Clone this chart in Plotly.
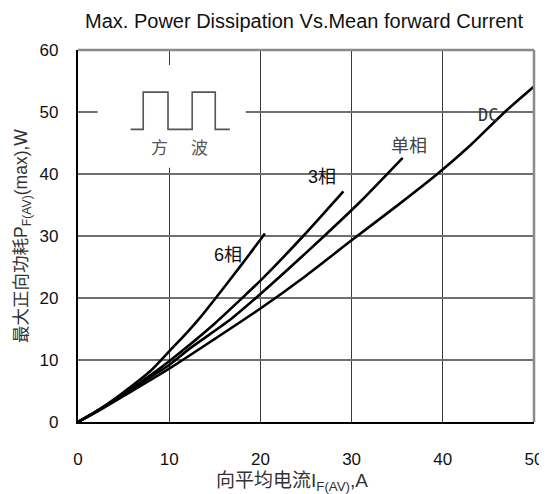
import plotly.graph_objects as go

# ---- data ----
x_6 = [0, 2, 5, 8, 10, 12, 13.2, 15, 18, 20.5]
y_6 = [0, 1.7, 4.8, 8.3, 11.4, 14.5, 16.5, 19.8, 25.5, 30.4]

x_3 = [0, 2, 5, 8, 10, 11.7, 15, 18, 20, 24.7, 29.1]
y_3 = [0, 1.7, 4.5, 7.6, 9.8, 11.8, 15.9, 20.0, 22.8, 30.0, 37.2]

x_1 = [0, 2, 5, 8, 10, 12.2, 16.6, 19.5, 23, 27, 31, 35.6]
y_1 = [0, 1.7, 4.4, 7.3, 9.2, 11.8, 16.4, 20.0, 24.6, 30.0, 35.6, 42.6]

x_dc = [0, 2, 5, 10, 15, 20, 25, 30, 35, 39.4, 43, 46.8, 50]
y_dc = [0, 1.6, 4.2, 8.6, 13.4, 18.3, 23.6, 29.3, 34.9, 40.0, 44.6, 50.0, 54.1]

x_ticks = [0, 10, 20, 30, 40, 50]
y_ticks = [0, 10, 20, 30, 40, 50, 60]

# square-wave inset outline (x, y in data units)
wave_x = [5.78, 7.15, 7.15, 9.87, 9.87, 12.52, 12.52, 15.05, 15.05, 16.65]
wave_y = [47.2, 47.2, 53.2, 53.2, 47.2, 47.2, 53.2, 53.2, 47.2, 47.2]

LATIN = "Liberation Sans, Arial, Noto Sans CJK SC"
CJK = "Noto Sans CJK SC"

fig = go.Figure()
for xs, ys in [(x_6, y_6), (x_3, y_3), (x_1, y_1), (x_dc, y_dc)]:
    fig.add_trace(go.Scatter(x=xs, y=ys, mode="lines",
                             line=dict(color="black", width=2.6, shape="spline", smoothing=0.7),
                             showlegend=False, hoverinfo="skip"))

shapes = []
# white box interrupting the grid behind the inset
shapes.append(dict(type="rect", xref="x", yref="y", x0=2.15, x1=18.4, y0=41.0, y1=57.6,
                   fillcolor="white", line=dict(width=0), layer="between"))
# square wave
path = "M " + " L ".join(f"{a},{b}" for a, b in zip(wave_x, wave_y))
shapes.append(dict(type="path", xref="x", yref="y", path=path,
                   line=dict(color="#555555", width=1.6), layer="above"))
# top and right frame (gray)
shapes.append(dict(type="line", xref="paper", yref="paper", x0=0, x1=1, y0=1, y1=1,
                   line=dict(color="#8a8a8a", width=2.5), layer="above"))
shapes.append(dict(type="line", xref="paper", yref="paper", x0=1, x1=1, y0=0, y1=1,
                   line=dict(color="#8a8a8a", width=2.5), layer="above"))

annotations = [
    dict(x=16.4, y=27.0, xref="x", yref="y", text="6相", showarrow=False,
         font=dict(family=LATIN, size=18, color="#111")),
    dict(x=26.7, y=39.5, xref="x", yref="y", text="3相", showarrow=False,
         font=dict(family=LATIN, size=18, color="#111")),
    dict(x=36.3, y=44.8, xref="x", yref="y", text="单相", showarrow=False,
         font=dict(family=CJK, size=18, color="#444")),
    dict(x=45.0, y=49.5, xref="x", yref="y", text="DC", showarrow=False,
         font=dict(family="DejaVu Sans Mono", size=17, color="#333")),
    dict(x=8.97, y=44.5, xref="x", yref="y", text="方", showarrow=False,
         font=dict(family=CJK, size=17, color="#555")),
    dict(x=13.3, y=44.5, xref="x", yref="y", text="波", showarrow=False,
         font=dict(family=CJK, size=17, color="#555")),
    # axis titles
    dict(x=0.4696, y=0, xref="paper", yref="paper", yshift=-60, xanchor="center", yanchor="middle",
         text="向平均电流I<sub>F(AV)</sub>,A", showarrow=False,
         font=dict(family=LATIN, size=19, color="#333")),
    dict(x=0, y=0.5, xref="paper", yref="paper", xshift=-56, xanchor="center", yanchor="middle",
         text="最大正向功耗P<sub>F(AV)</sub>(max),W", showarrow=False, textangle=-90,
         font=dict(family=LATIN, size=17.5, color="#333")),
]

# the page adds an 8px body margin, so the figure is laid out offset by 8px
fig.update_layout(
    width=547, height=486,
    margin=dict(l=70, r=17, t=42, b=72),
    paper_bgcolor="white", plot_bgcolor="white",
    title=dict(text="Max. Power Dissipation Vs.Mean forward Current",
               x=296 / 547, xanchor="center", y=1 - 13 / 486, yanchor="middle",
               font=dict(family=LATIN, size=20, color="#111")),
    shapes=shapes, annotations=annotations,
    xaxis=dict(range=[0, 50], tickvals=x_ticks, ticktext=[str(v) for v in x_ticks],
               showgrid=True, gridcolor="#3a3a3a", gridwidth=1.2,
               showline=True, linecolor="black", linewidth=2.2, zeroline=False,
               ticks="", ticklabelstandoff=20, ticklabeloverflow="allow",
               tickfont=dict(family=LATIN, size=17, color="#111")),
    yaxis=dict(range=[0, 60], tickvals=y_ticks, ticktext=[str(v) for v in y_ticks],
               showgrid=True, gridcolor="#6f6f6f", gridwidth=1.6,
               showline=True, linecolor="black", linewidth=2.2, zeroline=False,
               ticks="", ticklabelstandoff=14, ticklabeloverflow="allow",
               tickfont=dict(family=LATIN, size=17, color="#111")),
)

fig.write_html("out.html")
